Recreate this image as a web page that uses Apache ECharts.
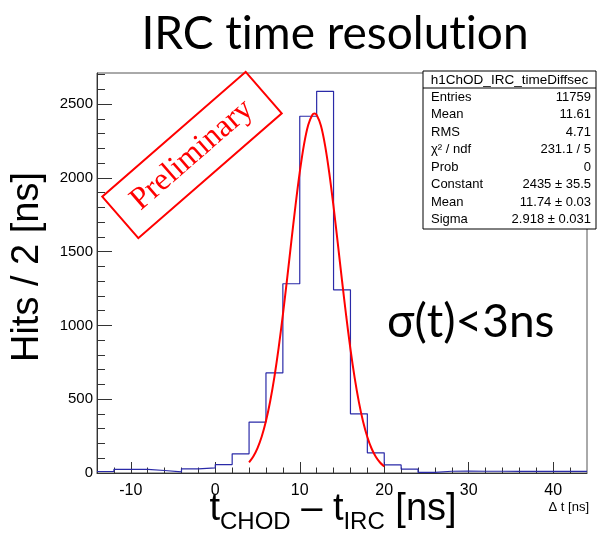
<!DOCTYPE html>
<html>
<head>
<meta charset="utf-8">
<script src="https://cdn.jsdelivr.net/npm/echarts@6/dist/echarts.min.js"></script>
<style>
  html, body { margin: 0; padding: 0; background: #ffffff; }
  #chart { width: 606px; height: 533px; }
</style>
</head>
<body>
<div id="chart"></div>
<script>
// Histogram: lower bin edges (2 ns wide bins) and counts per bin
const binLowEdges = [-14, -12, -10, -8, -6, -4, -2, 0, 2, 4, 6, 8, 10, 12, 14, 16, 18, 20, 22, 24, 26, 28, 30, 32, 34, 36, 38, 40, 42];
const binCounts   = [10, 24, 24, 17, 8, 28, 35, 57, 130, 345, 678, 1282, 2417, 2586, 1241, 401, 137, 55, 26, 4, 12, 13, 12, 12, 11, 11, 12, 11, 11];
const binWidth = 2;

// Gaussian fit curve samples (x in ns, y in hits)
const fitX = [4, 4.5, 5, 5.5, 6, 6.5, 7, 7.5, 8, 8.5, 9, 9.5, 10, 10.5, 11, 11.5, 11.74, 12, 12.5, 13, 13.5, 14, 14.5, 15, 15.5, 16, 16.5, 17, 17.5, 18, 18.5, 19, 19.5, 20];
const fitY = [72, 112, 169, 247, 352, 486, 651, 847, 1071, 1314, 1567, 1814, 2038, 2225, 2358, 2427, 2435, 2425, 2354, 2218, 2030, 1804, 1557, 1305, 1062, 839, 644, 480, 347, 244, 166, 110, 71, 44];

// Axis ticks
const xMajorTicks = [-10, 0, 10, 20, 30, 40];
const xMinorTicks = [-12, -8, -6, -4, -2, 2, 4, 6, 8, 12, 14, 16, 18, 22, 24, 26, 28, 32, 34, 36, 38, 42];
const yMajorTicks = [0, 500, 1000, 1500, 2000, 2500];
const yMinorTicks = [100, 200, 300, 400, 600, 700, 800, 900, 1100, 1200, 1300, 1400, 1600, 1700, 1800, 1900, 2100, 2200, 2300, 2400, 2600, 2700];

// Statistics box rows
const statsTitle = 'h1ChOD_IRC_timeDiffsec';
const statsLabels = ['Entries', 'Mean', 'RMS', 'χ² / ndf', 'Prob', 'Constant', 'Mean', 'Sigma'];
const statsValues = ['11759', '11.61', '4.71', '231.1 / 5', '0', '2435 ± 35.5', '11.74 ± 0.03', '2.918 ± 0.031'];

const xMin = -14, xMax = 44, yMax = 2710;

const histData = binLowEdges.map((x, i) => [x, binCounts[i]]);
histData.push([binLowEdges[binLowEdges.length - 1] + binWidth, binCounts[binCounts.length - 1]]);
const fitData = fitX.map((x, i) => [x, fitY[i]]);

const sansFont = '"Liberation Sans", Arial, Helvetica, sans-serif';
const titleFont = 'Lato, "Open Sans", sans-serif';
const plainNumber = v => String(v);

const chart = echarts.init(document.getElementById('chart'), null, { renderer: 'canvas' });

// Stats box graphic elements
const boxX = 423, boxY = 71, boxW = 173, rowH = 17.5, headH = 17;
const statsElems = [];
statsElems.push({
  type: 'rect', shape: { x: boxX, y: boxY, width: boxW, height: headH + statsLabels.length * rowH + 1 },
  style: { fill: '#ffffff', stroke: '#000000', lineWidth: 1 }, z: 10
});
statsElems.push({
  type: 'line', shape: { x1: boxX, y1: boxY + headH, x2: boxX + boxW, y2: boxY + headH },
  style: { stroke: '#000000', lineWidth: 1 }, z: 11
});
statsElems.push({
  type: 'text', x: boxX + boxW / 2, y: boxY + headH / 2 + 0.5,
  style: { text: statsTitle, font: '13.5px ' + sansFont, fill: '#000', align: 'center', verticalAlign: 'middle' }, z: 11
});
statsLabels.forEach((lab, i) => {
  const cy = boxY + headH + rowH * (i + 0.5) + 0.5;
  statsElems.push({
    type: 'text', x: boxX + 8, y: cy,
    style: { text: lab, font: '13px ' + sansFont, fill: '#000', align: 'left', verticalAlign: 'middle' }, z: 11
  });
  statsElems.push({
    type: 'text', x: boxX + boxW - 5, y: cy,
    style: { text: statsValues[i], font: '13px ' + sansFont, fill: '#000', align: 'right', verticalAlign: 'middle' }, z: 11
  });
});

const option = {
  animation: false,
  backgroundColor: '#ffffff',
  grid: {
    left: 97, right: 19, top: 73, bottom: 60,
    show: true, borderColor: '#555', borderWidth: 1, backgroundColor: 'transparent'
  },
  xAxis: [
    {
      type: 'value', min: xMin, max: xMax, position: 'bottom',
      axisLine: { show: true, onZero: false, lineStyle: { color: '#333', width: 1 } },
      axisTick: { show: true, inside: true, length: 11, customValues: xMajorTicks, lineStyle: { color: '#333' } },
      axisLabel: { show: true, customValues: xMajorTicks, formatter: plainNumber, margin: 10, color: '#000', fontSize: 16, fontFamily: sansFont },
      splitLine: { show: false }
    },
    {
      type: 'value', min: xMin, max: xMax, position: 'bottom',
      axisLine: { show: false, onZero: false },
      axisTick: { show: true, inside: true, length: 5.5, customValues: xMinorTicks, lineStyle: { color: '#333' } },
      axisLabel: { show: false },
      splitLine: { show: false }
    }
  ],
  yAxis: [
    {
      type: 'value', min: 0, max: yMax, position: 'left',
      axisLine: { show: true, onZero: false, lineStyle: { color: '#333', width: 1 } },
      axisTick: { show: true, inside: true, length: 15, customValues: yMajorTicks, lineStyle: { color: '#333' } },
      axisLabel: { show: true, customValues: yMajorTicks, formatter: plainNumber, margin: 4, color: '#000', fontSize: 15, fontFamily: sansFont },
      splitLine: { show: false }
    },
    {
      type: 'value', min: 0, max: yMax, position: 'left',
      axisLine: { show: false, onZero: false },
      axisTick: { show: true, inside: true, length: 8, customValues: yMinorTicks, lineStyle: { color: '#333' } },
      axisLabel: { show: false },
      splitLine: { show: false }
    }
  ],
  series: [
    {
      name: 'h1ChOD_IRC_timeDiffsec', type: 'line', xAxisIndex: 0, yAxisIndex: 0,
      data: histData, step: 'end', showSymbol: false, symbol: 'none',
      lineStyle: { color: '#2a2aa8', width: 1.2 }, z: 3
    },
    {
      name: 'gaus', type: 'line', xAxisIndex: 0, yAxisIndex: 0,
      data: fitData, smooth: 0.3, showSymbol: false, symbol: 'none',
      lineStyle: { color: '#ff0000', width: 2 }, z: 4
    }
  ],
  graphic: [
    {
      type: 'text', x: 335, y: 34,
      style: { text: 'IRC t\u200Cime resolut\u200Cion', font: '46px ' + titleFont, fill: '#000', align: 'center', verticalAlign: 'middle' }
    },
    {
      type: 'text', x: 28, y: 267, rotation: Math.PI / 2,
      style: { text: 'Hits / 2 [ns]', font: '38px ' + sansFont, fill: '#000', align: 'center', verticalAlign: 'middle' }
    },
    {
      type: 'text', x: 333, y: 510,
      style: {
        text: '{t|t}{s|CHOD}{t| – t}{s|IRC}{t| [ns]}',
        align: 'center', verticalAlign: 'middle',
        rich: {
          t: { font: '38px ' + sansFont, fill: '#000', verticalAlign: 'bottom' },
          s: { font: '24px ' + sansFont, fill: '#000', verticalAlign: 'bottom', padding: [0, 0, -5, 0] }
        }
      }
    },
    {
      type: 'text', x: 589, y: 507,
      style: { text: 'Δ t [ns]', font: '13px ' + sansFont, fill: '#000', align: 'right', verticalAlign: 'middle' }
    },
    {
      type: 'text', x: 387, y: 322,
      style: { text: 'σ(t)<3ns', font: '46px ' + titleFont, fill: '#000', align: 'left', verticalAlign: 'middle' }
    },
    {
      type: 'group', x: 192, y: 155, rotation: 41 * Math.PI / 180,
      children: [
        { type: 'rect', shape: { x: -95, y: -27.5, width: 190, height: 55 }, style: { fill: 'transparent', stroke: '#ff0000', lineWidth: 2 } },
        { type: 'text', x: 0, y: 0, style: { text: 'Preliminary', font: '32px "Liberation Serif", "Times New Roman", serif', fill: '#ff0000', align: 'center', verticalAlign: 'middle' } }
      ]
    }
  ].concat(statsElems)
};

chart.setOption(option);
</script>
</body>
</html>
